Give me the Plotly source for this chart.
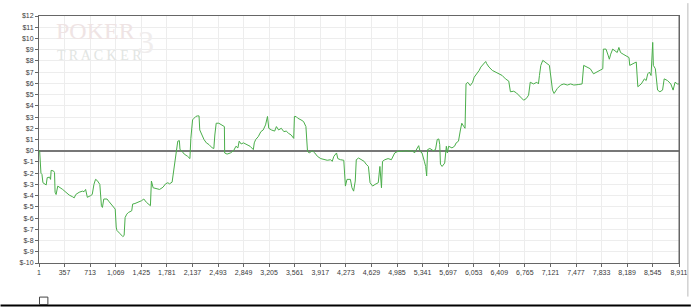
import plotly.graph_objects as go

hands = [1, 10, 28, 42, 56, 79, 101, 115, 148, 162, 170, 203, 217, 225, 239, 262, 307, 331, 376, 422,
         468, 491, 513, 560, 605, 628, 650, 674, 719, 742, 766, 788, 811, 848, 870, 884, 903, 948, 972, 1017,
         1062, 1076, 1086, 1131, 1168, 1186, 1200, 1223, 1246, 1292, 1305, 1337, 1384, 1429, 1460, 1497, 1552, 1566, 1590, 1635,
         1680, 1727, 1763, 1795, 1817, 1854, 1872, 1886, 1900, 1919, 1933, 1955, 1964, 1992, 2023, 2070, 2102, 2115, 2129, 2139,
         2161, 2184, 2207, 2229, 2239, 2266, 2298, 2331, 2367, 2413, 2435, 2449, 2468, 2504, 2551, 2582, 2586, 2619, 2665, 2710,
         2743, 2770, 2788, 2816, 2847, 2894, 2939, 2985, 2998, 3018, 3053, 3090, 3122, 3155, 3182, 3200, 3237, 3282, 3306, 3337,
         3374, 3410, 3443, 3475, 3512, 3547, 3557, 3580, 3602, 3648, 3684, 3717, 3739, 3762, 3808, 3841, 3877, 3923, 3969, 4014,
         4061, 4083, 4106, 4143, 4161, 4198, 4244, 4267, 4289, 4336, 4358, 4381, 4404, 4418, 4450, 4495, 4528, 4555, 4587, 4610,
         4646, 4679, 4724, 4747, 4769, 4783, 4816, 4861, 4907, 4953, 4999, 5067, 5113, 5159, 5205, 5228, 5287, 5305, 5333, 5366,
         5384, 5398, 5411, 5443, 5490, 5521, 5545, 5567, 5580, 5590, 5613, 5649, 5672, 5686, 5704, 5750, 5786, 5809, 5841, 5868,
         5887, 5915, 5932, 5946, 5969, 6005, 6038, 6060, 6097, 6129, 6152, 6189, 6220, 6234, 6266, 6313, 6358, 6403, 6450, 6495,
         6541, 6564, 6610, 6648, 6679, 6726, 6748, 6785, 6817, 6840, 6886, 6932, 6954, 6968, 6987, 7015, 7046, 7092, 7107, 7150,
         7172, 7218, 7264, 7309, 7356, 7402, 7447, 7516, 7562, 7584, 7631, 7676, 7721, 7768, 7813, 7850, 7858, 7895, 7927, 7941,
         7960, 7988, 8019, 8051, 8074, 8097, 8133, 8180, 8215, 8225, 8270, 8316, 8338, 8385, 8430, 8454, 8476, 8499, 8522, 8545,
         8554, 8582, 8613, 8645, 8682, 8705, 8751, 8797, 8829, 8856, 8888, 8911]

profit = [0.0, 0.0, -2.0, -2.1, -2.85, -3.0, -3.05, -2.4, -2.35, -2.55, -1.75, -1.8, -1.95, -3.7, -3.9, -3.15, -3.3, -3.45, -3.7, -3.95,
          -4.1, -4.2, -3.9, -3.7, -3.6, -3.65, -3.45, -4.15, -4.0, -3.9, -3.0, -2.55, -2.65, -3.0, -4.9, -5.05, -4.3, -4.3, -4.5, -4.9,
          -5.2, -6.8, -7.1, -7.4, -7.65, -7.55, -5.95, -5.65, -5.5, -5.35, -4.75, -4.7, -4.6, -4.45, -4.3, -4.6, -4.9, -2.7, -3.3, -3.35,
          -3.45, -3.25, -2.95, -2.85, -2.95, -2.8, -1.95, -1.65, -0.65, -0.2, 0.85, 0.9, 0.1, -0.05, -0.3, -0.5, -0.7, 1.1, 2.45, 2.75,
          2.9, 3.05, 3.1, 3.1, 1.85, 1.4, 1.0, 0.7, 0.55, 0.25, 0.2, 1.4, 2.45, 2.45, 2.3, 2.15, -0.2, -0.3, -0.2, 0.0,
          0.4, 0.25, 0.85, 0.6, 0.7, 0.55, 0.4, 0.1, 0.7, 1.0, 1.25, 1.7, 1.85, 2.3, 3.05, 2.0, 1.85, 1.75, 2.15, 1.85,
          2.0, 1.7, 1.75, 1.55, 1.4, 1.1, 3.05, 3.05, 2.9, 2.75, 2.6, 2.15, -0.05, -0.2, 0.0, -0.2, -0.5, -0.7, -0.8, -0.85,
          -0.8, -0.95, -0.5, -0.2, -0.7, -0.8, -0.85, -3.15, -2.55, -2.55, -3.3, -3.6, -2.7, -0.8, -0.65, -0.8, -0.95, -1.2, -1.4, -2.85,
          -3.15, -3.0, -2.85, -1.4, -3.3, -0.95, -0.8, -0.7, -0.8, -0.2, -0.05, -0.05, 0.0, -0.05, 0.0, -0.2, 0.45, -0.05, -0.2, -0.95,
          -1.4, -2.25, 0.1, 0.2, 0.0, 0.1, 1.0, 1.05, 0.55, -1.2, -1.4, -1.1, 0.4, -0.2, 0.4, 0.25, 0.4, 0.7, 0.85, 1.85,
          2.45, 2.15, 2.0, 5.95, 6.1, 5.8, 6.1, 6.55, 6.85, 7.15, 7.45, 7.75, 7.95, 7.75, 7.45, 7.15, 7.0, 6.85, 6.7, 6.4,
          6.2, 5.25, 5.3, 5.15, 4.95, 4.65, 4.5, 4.65, 4.95, 6.1, 5.95, 6.1, 5.95, 6.7, 7.6, 8.05, 7.9, 7.6, 7.6, 5.4,
          5.1, 5.55, 5.85, 5.95, 5.85, 5.95, 5.85, 5.9, 5.95, 7.6, 7.45, 7.3, 6.85, 7.0, 7.15, 7.3, 9.05, 9.05, 8.45, 8.15,
          8.6, 9.05, 8.9, 8.75, 9.2, 8.75, 8.6, 8.45, 8.3, 7.6, 7.75, 7.9, 5.7, 5.95, 6.4, 6.25, 6.85, 7.0, 6.7, 9.65,
          7.6, 7.3, 5.4, 5.25, 5.4, 6.4, 6.25, 5.95, 5.4, 6.1, 5.95, 5.95]

x_ticks = [1, 357, 713, 1069, 1425, 1781, 2137, 2493, 2849, 3205, 3561, 3917, 4273, 4629, 4985,
           5341, 5697, 6053, 6409, 6765, 7121, 7477, 7833, 8189, 8545, 8911]
x_tick_labels = ["{:,}".format(v) for v in x_ticks]
y_ticks = list(range(-10, 13))
y_tick_labels = ["$" + str(v) for v in y_ticks]

fig = go.Figure()
fig.add_trace(go.Scatter(x=hands, y=profit, mode="lines",
                         line=dict(color="#4aae4a", width=1), showlegend=False, hoverinfo="skip"))

axis_font = dict(family="Liberation Sans, Arial, sans-serif", size=7, color="#3a3a3a")
fig.update_layout(
    width=700, height=307,
    margin=dict(l=39, r=12, t=13, b=44),
    paper_bgcolor="white", plot_bgcolor="white",
    xaxis=dict(range=[1, 8911], tickvals=x_ticks, ticktext=x_tick_labels,
               showgrid=True, gridcolor="#ededed", gridwidth=1,
               showline=True, linecolor="#666666", linewidth=1, mirror=True,
               ticks="outside", ticklen=3, tickcolor="#666666",
               tickfont=axis_font, zeroline=False, fixedrange=True),
    yaxis=dict(range=[-10, 12], tickvals=y_ticks, ticktext=y_tick_labels,
               showgrid=True, gridcolor="#ededed", gridwidth=1,
               showline=True, linecolor="#666666", linewidth=1, mirror=True,
               ticks="outside", ticklen=3, tickcolor="#666666",
               tickfont=axis_font, zeroline=True, zerolinecolor="#777777", zerolinewidth=1.5,
               fixedrange=True),
    shapes=[
        dict(type="line", xref="paper", yref="paper", x0=1.0, x1=1.0, y0=0, y1=1,
             line=dict(color="#666666", width=1)),
        dict(type="line", xref="paper", yref="paper", x0=(697 - 39) / 649, x1=(697 - 39) / 649,
             y0=(263 - 297) / 250, y1=(263 - 0) / 250, line=dict(color="#bbbbbb", width=1)),
        dict(type="rect", xref="paper", yref="paper", x0=-39 / 649, x1=(700 - 39) / 649,
             y0=(263 - 307) / 250, y1=(263 - 305) / 250, fillcolor="black", line=dict(width=0)),
        dict(type="rect", xref="paper", yref="paper", x0=0.5 / 649, x1=9 / 649,
             y0=(263 - 305) / 250, y1=(263 - 297.5) / 250, line=dict(color="#444444", width=1)),
    ],
    annotations=[
        dict(text="POKER", xref="paper", yref="paper", x=(54 - 39) / 649, y=(263 - 43) / 250,
             xanchor="left", yanchor="bottom", showarrow=False,
             font=dict(family="Liberation Serif, serif", size=24, color="#efe4e4")),
        dict(text="T R A C K E R", xref="paper", yref="paper", x=(55 - 39) / 649, y=(263 - 63) / 250,
             xanchor="left", yanchor="bottom", showarrow=False,
             font=dict(family="Liberation Serif, serif", size=14, color="#e2e5e2")),
        dict(text="3", xref="paper", yref="paper", x=(137 - 39) / 649, y=(263 - 60) / 250,
             xanchor="left", yanchor="bottom", showarrow=False,
             font=dict(family="Liberation Serif, serif", size=32, color="#f0eded")),
    ],
)
fig.write_html("out.html")
